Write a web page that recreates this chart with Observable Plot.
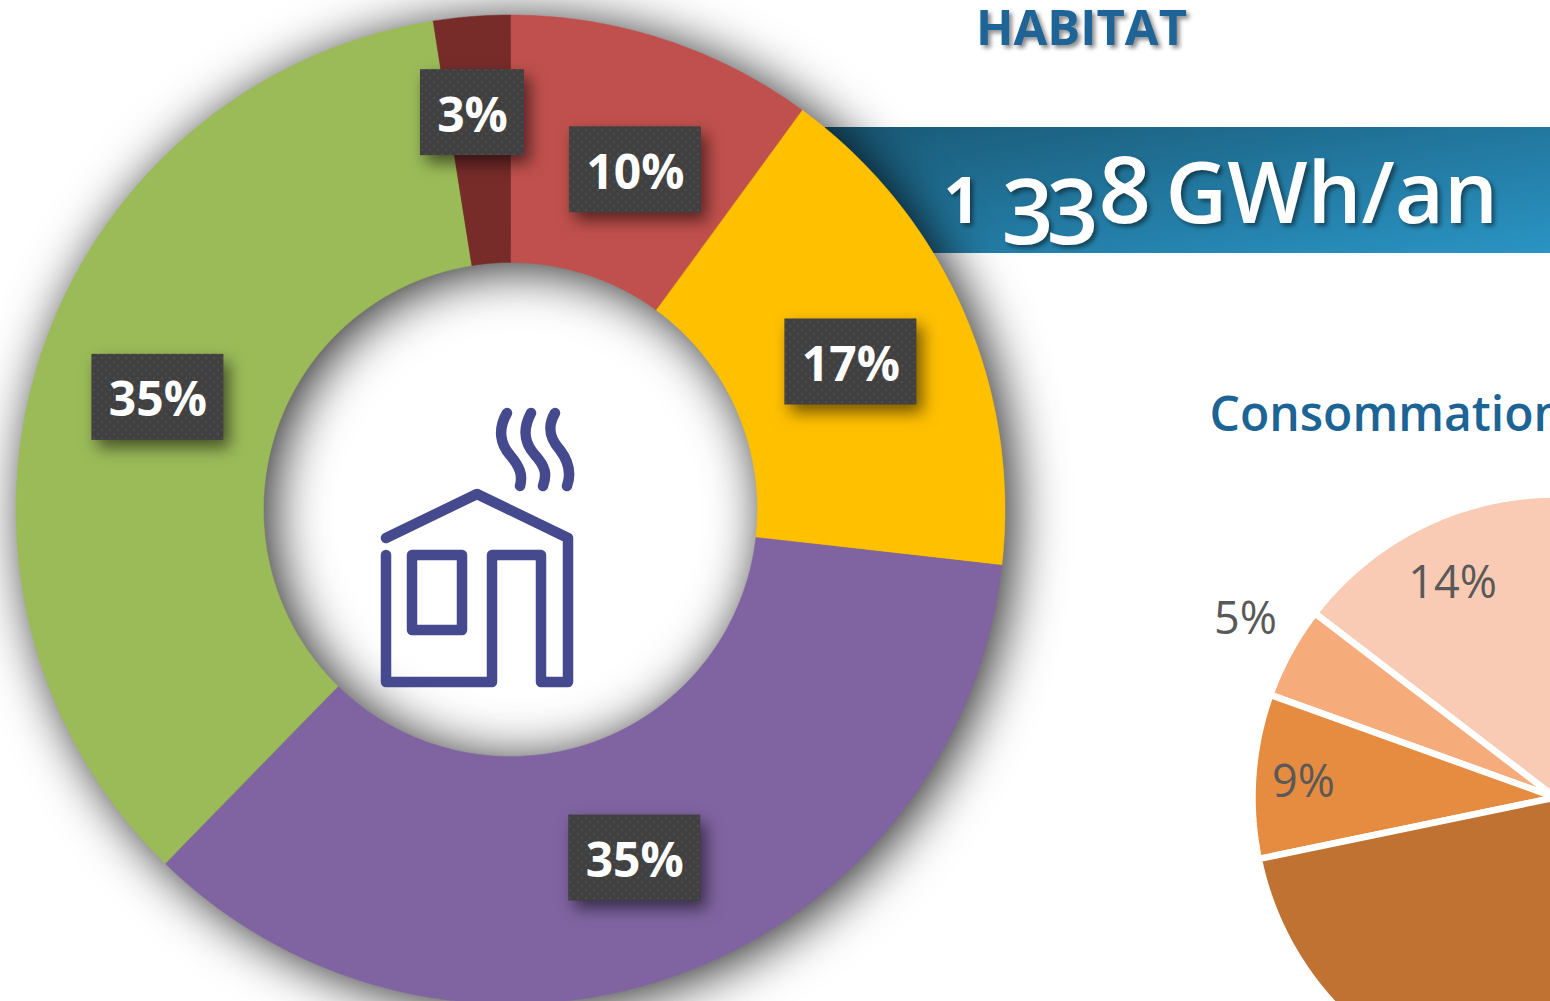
<!DOCTYPE html>
<html>
<head>
<meta charset="utf-8">
<style>
html,body{margin:0;padding:0;background:#fff;overflow:hidden}
svg{display:block}
</style>
<script src="https://cdn.jsdelivr.net/npm/d3@7"></script>
<script src="https://cdn.jsdelivr.net/npm/@observablehq/plot@0.6"></script>
</head>
<body>
<script>
// ---- data ----
const donutNames = ["rouge", "jaune", "violet", "vert", "bordeaux"];
const donutValues = [10.05, 16.75, 35.5, 35.2, 2.5];
const donutLabels = ["10%", "17%", "35%", "35%", "3%"];
const donutColors = ["#c0504d", "#ffc000", "#8064a2", "#9bbb59", "#772c2a"];

const pieNames = ["p14", "p5", "p9", "pReste"];
const pieValues = [14.6, 4.9, 8.75, 30];
const pieLabels = ["14%", "5%", "9%", ""];
const pieColors = ["#f9cbb4", "#f6ab7b", "#e68c40", "#bf7232"];

const titleText = "HABITAT";
const totalText = "1 338 GWh/an";
const subtitleText = "Consommation";

// ---- geometry ----
const W = 1550, H = 1001;
const CX = 510, CY = 509;                 // donut centre in the frame
const X = (px) => px - CX, Y = (py) => CY - py;
const polar = (r, pct) => {
  const a = (pct / 100) * 2 * Math.PI;
  return [r * Math.sin(a), r * Math.cos(a)];
};

function slicePolygon(name, from, to, rOuter, rInner, ox = 0, oy = 0) {
  const n = Math.max(2, Math.ceil(Math.abs(to - from) * 4));
  const pts = [];
  for (let i = 0; i <= n; i++) {
    const [x, y] = polar(rOuter, from + ((to - from) * i) / n);
    pts.push({name, x: x + ox, y: y + oy});
  }
  if (rInner > 0) {
    for (let i = n; i >= 0; i--) {
      const [x, y] = polar(rInner, from + ((to - from) * i) / n);
      pts.push({name, x: x + ox, y: y + oy});
    }
  } else pts.push({name, x: ox, y: oy});
  pts.push({...pts[0]});
  return pts;
}

const R = 494.5, RI = 247;
const donutStarts = d3.cumsum([0, ...donutValues]);
const donutPoly = donutNames.flatMap((n, i) =>
  slicePolygon(n, donutStarts[i], donutStarts[i + 1], R, RI));

// label boxes sit on the middle of each ring slice; the two narrow top ones are moved apart
const moved = {"0": [10, -12], "1": [1.5, -1], "4": [-9, 28]};
const boxes = donutLabels.map((text, i) => {
  const [x, y] = polar(370, (donutStarts[i] + donutStarts[i + 1]) / 2);
  const [dx, dy] = moved[i] || [0, 0];
  return {text, x: x + dx, y: y + dy, hw: text.length === 2 ? 52 : 66};
});

const POX = X(1555), POY = Y(797), PR = 303;
const pieStarts = d3.cumsum([0, ...pieValues]);
const piePoly = pieNames.flatMap((n, i) =>
  slicePolygon(n, -pieStarts[i], -pieStarts[i + 1], PR, 0, POX, POY));

const pieText = [
  {t: pieLabels[0], x: X(1452), y: Y(583)},
  {t: pieLabels[1], x: X(1245), y: Y(619)},
  {t: pieLabels[2], x: X(1303), y: Y(782)}
];

// ---- helpers ----
const withFilter = (filter) => (i, s, v, d, c, next) => {
  const g = next(i, s, v, d, c);
  g.style.filter = filter;
  return g;
};

const defs = () => {
  const el = d3.create("svg:defs");
  const gr = el.append("linearGradient").attr("id", "bandeau")
    .attr("x1", 0).attr("y1", 0).attr("x2", 1).attr("y2", 1);
  gr.append("stop").attr("offset", "0%").attr("stop-color", "#1a5a78");
  gr.append("stop").attr("offset", "100%").attr("stop-color", "#2a94c4");
  const p = el.append("pattern").attr("id", "trame").attr("patternUnits", "userSpaceOnUse")
    .attr("width", 8).attr("height", 8);
  p.append("rect").attr("width", 8).attr("height", 8).attr("fill", "#404040");
  p.append("circle").attr("cx", 2).attr("cy", 2).attr("r", 1.3).attr("fill", "#4b4b4b");
  p.append("circle").attr("cx", 6).attr("cy", 6).attr("r", 1.3).attr("fill", "#4b4b4b");
  return el.node();
};

const houseIcon = (index, scales) => {
  const g = d3.create("svg:g")
    .attr("transform", `translate(${scales.x(X(350))},${scales.y(Y(390))})`)
    .attr("fill", "none").attr("stroke", "#454a8e").attr("stroke-width", 10.5)
    .attr("stroke-linejoin", "round").attr("stroke-linecap", "round");
  [
    "M36,148L127,104L218,148L218,292L191,292L191,165L142,165L142,292L36,292L36,165",
    "M62,165L112,165L112,240L62,240Z",
    "M157,23C147,40 151,55 160,65C170,77 173,85 170,96",
    "M181,23C171,42 176,55 185,65C196,77 197,85 193,96",
    "M205,23C195,40 203,52 210,60C219,72 221,85 217,96"
  ].forEach((d) => g.append("path").attr("d", d));
  g.style("filter", "blur(0.7px)");
  return g.node();
};

const font = "'Open Sans', 'Noto Sans', sans-serif";
const shadowText = "drop-shadow(3px 3px 2px rgba(0,0,0,0.45))";

// old-style figures of the total, set as runs of the same text element
const totalRuns = [
  {s: "1 ", size: 64, x: 3, y: 0, weight: 700},
  {s: "3", size: 91, x: 61, y: 21},
  {s: "3", size: 91, x: 106, y: 21},
  {s: "8 ", size: 92, x: 158, y: 0},
  {s: "GWh/an", size: 85, x: 225, y: 0}
];
const oldStyle = (i, s, v, d, c, next) => {
  const g = next(i, s, v, d, c);
  g.style.filter = shadowText;
  const t = g.querySelector("text");
  t.textContent = "";
  for (const run of totalRuns) {
    const ts = document.createElementNS("http://www.w3.org/2000/svg", "tspan");
    ts.textContent = run.s;
    ts.setAttribute("x", run.x);
    ts.setAttribute("y", run.y);
    ts.setAttribute("font-size", run.size);
    if (run.weight) ts.setAttribute("font-weight", run.weight);
    t.appendChild(ts);
  }
  return g;
};

const chart = Plot.plot({
  width: W,
  height: H,
  margin: 0,
  x: {domain: [X(0), X(W)], range: [0, W], axis: null},
  y: {domain: [Y(0), Y(H)], range: [0, H], axis: null},
  color: {
    type: "ordinal",
    domain: [...donutNames, ...pieNames],
    range: [...donutColors, ...pieColors]
  },
  style: {background: "#fff"},
  marks: [
    defs,
    // lower-right pie
    Plot.line(piePoly, {x: "x", y: "y", z: "name", fill: "name", stroke: "#fff", strokeWidth: 6.5, strokeLinejoin: "miter"}),
    Plot.text(pieText, {x: "x", y: "y", text: "t", fontFamily: font, fontWeight: 500, fontSize: 45, fill: "#595959"}),
    Plot.text([subtitleText], {text: (d) => d, x: X(1209), y: Y(415), textAnchor: "start", fontFamily: font, fontWeight: 600, fontSize: 48, fill: "#1c6496"}),
    // banner
    Plot.rect([0], {x1: X(825), x2: X(W), y1: Y(127), y2: Y(253), fill: "url(#bandeau)"}),
    // donut
    Plot.line(donutPoly, {x: "x", y: "y", z: "name", fill: "name", stroke: "name", strokeWidth: 0.5,
      render: withFilter("drop-shadow(8px 5px 26px rgba(0,0,0,0.85))")}),
    houseIcon,
    // label boxes
    Plot.rect(boxes, {x1: (d) => d.x - d.hw, x2: (d) => d.x + d.hw, y1: (d) => d.y - 43, y2: (d) => d.y + 43,
      fill: "url(#trame)", render: withFilter("drop-shadow(6px 8px 8px rgba(0,0,0,0.55))")}),
    Plot.text(boxes, {x: "x", y: "y", dy: 3.5, text: "text", fontFamily: font, fontWeight: 700, fontSize: 48, fill: "#fff"}),
    // titles
    Plot.text([titleText], {text: (d) => d, x: X(1081), y: Y(29), fontFamily: font, fontWeight: 700, fontSize: 49, fill: "#1f6496",
      render: withFilter(shadowText)}),
    Plot.text([totalText], {text: (d) => d, x: X(940), y: Y(222), textAnchor: "start", lineAnchor: "bottom", fontFamily: font, fontWeight: 600, fontSize: 85, fill: "#fff",
      render: oldStyle})
  ]
});
document.body.appendChild(chart);
</script>
</body>
</html>
